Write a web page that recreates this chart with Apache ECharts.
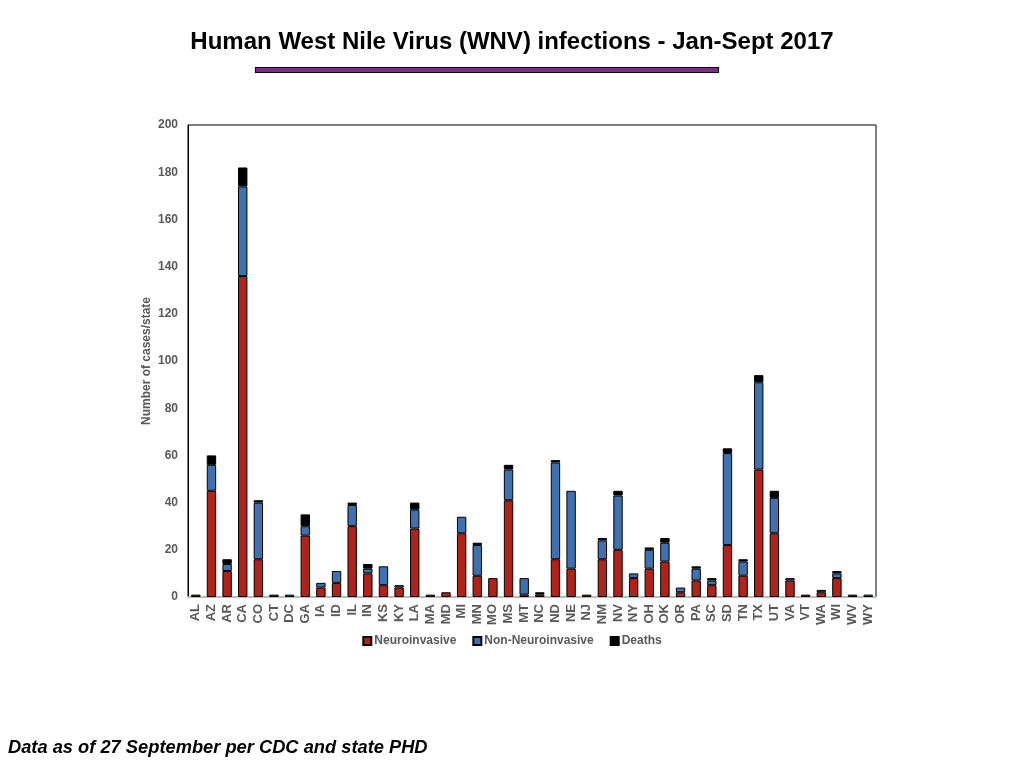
<!DOCTYPE html>
<html>
<head>
<meta charset="utf-8">
<script src="https://cdn.jsdelivr.net/npm/echarts@6/dist/echarts.min.js"></script>
<style>
html,body{margin:0;padding:0;background:#fff;}
#c{width:1024px;height:768px;}
</style>
</head>
<body>
<div id="c"></div>
<script>
var states = ['AL','AZ','AR','CA','CO','CT','DC','GA','IA','ID','IL','IN','KS','KY','LA','MA','MD','MI','MN','MO','MS','MT','NC','ND','NE','NJ','NM','NV','NY','OH','OK','OR','PA','SC','SD','TN','TX','UT','VA','VT','WA','WI','WV','WY'];
var neuroinvasive = [1,45,11,136,16,1,0,26,4,6,30,10,5,4,29,1,2,27,9,8,41,1,1,16,12,1,16,20,8,12,15,2,7,5,22,9,54,27,7,1,2,8,1,0];
var nonNeuroinvasive = [0,11,3,38,24,0,1,4,2,5,9,2,8,1,8,0,0,7,13,0,13,7,0,41,33,0,8,23,2,8,8,2,5,2,39,6,37,15,1,0,1,2,0,1];
var deaths = [0,4,2,8,1,0,0,5,0,0,1,2,0,0,3,0,0,0,1,0,2,0,1,1,0,0,1,2,0,1,2,0,1,1,2,1,3,3,0,0,0,1,0,0];
var yTicks = [0,20,40,60,80,100,120,140,160,180,200];

function clean(a){ return a.map(function(v){ return v === 0 ? '-' : v; }); }

var gray = '#595959';
var chart = echarts.init(document.getElementById('c'));
var barCommon = {
  type: 'bar', stack: 'total', barWidth: '60%'
};
chart.setOption({
  animation: false,
  backgroundColor: '#fff',
  title: {
    text: 'Human West Nile Virus (WNV) infections - Jan-Sept 2017',
    left: 'center', top: 25,
    textStyle: { fontFamily: 'Liberation Sans', fontWeight: 'bold', fontSize: 24, color: '#000' }
  },
  graphic: [
    { type: 'rect', shape: { x: 255.5, y: 67.5, width: 463, height: 5 },
      style: { fill: '#7e2b8e', stroke: '#000', lineWidth: 1.2 } },
    { type: 'text', left: 8, top: 739,
      style: { text: 'Data as of 27 September per CDC and state PHD', fill: '#000',
        font: 'italic bold 18.3px "Liberation Sans"' } }
  ],
  legend: {
    bottom: 116, left: 'center',
    itemWidth: 8, itemHeight: 8, itemGap: 16,
    icon: 'rect',
    textStyle: { fontFamily: 'Liberation Sans', fontWeight: 'bold', fontSize: 12, color: gray, padding: [0,0,0,-2] },
    data: ['Neuroinvasive','Non-Neuroinvasive','Deaths']
  },
  grid: { left: 188, top: 125, width: 688, height: 472, show: true, borderColor: '#000', borderWidth: 1, containLabel: false },
  xAxis: {
    type: 'category', data: states,
    axisLine: { lineStyle: { color: '#d0d0d0', width: 1.5 } },
    axisTick: { show: false },
    axisLabel: { rotate: 90, interval: 0, margin: 7, color: gray, fontFamily: 'Liberation Sans', fontWeight: 'bold', fontSize: 13 }
  },
  yAxis: {
    type: 'value', min: yTicks[0], max: yTicks[yTicks.length-1], interval: 20,
    name: 'Number of cases/state', nameLocation: 'middle', nameGap: 35, nameMoveOverlap: false,
    nameTextStyle: { fontFamily: 'Liberation Sans', fontWeight: 'bold', fontSize: 12, color: gray },
    axisLine: { show: true, lineStyle: { color: '#000', width: 1 } },
    axisTick: { show: false },
    splitLine: { show: false },
    axisLabel: { margin: 10, color: gray, fontFamily: 'Liberation Sans', fontWeight: 'bold', fontSize: 12 }
  },
  series: [
    Object.assign({}, barCommon, { name: 'Neuroinvasive', data: clean(neuroinvasive), itemStyle: { color: '#b0231a', borderColor: '#000', borderWidth: 1 } }),
    Object.assign({}, barCommon, { name: 'Non-Neuroinvasive', data: clean(nonNeuroinvasive), itemStyle: { color: '#3f71b0', borderColor: '#000', borderWidth: 1 } }),
    Object.assign({}, barCommon, { name: 'Deaths', data: clean(deaths), itemStyle: { color: '#000', borderColor: '#000', borderWidth: 1 } })
  ]
});
</script>
</body>
</html>
